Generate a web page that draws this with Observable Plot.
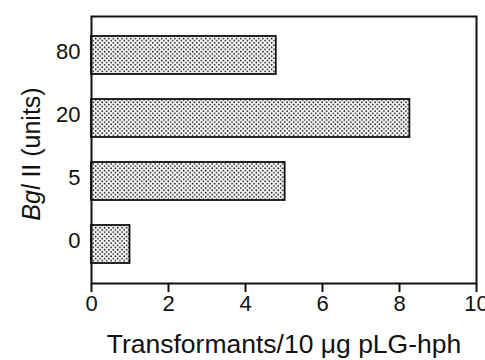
<!DOCTYPE html>
<html><head><meta charset="utf-8">
<script src="https://cdn.jsdelivr.net/npm/d3@7"></script>
<script src="https://cdn.jsdelivr.net/npm/@observablehq/plot@0.6"></script>
<style>body{margin:0;background:#fff}</style>
</head><body><div id="chart"></div>
<script>
const units = ["80", "20", "5", "0"];
const transformants = [4.8, 8.27, 5.03, 1.0];
const xTicks = [0, 2, 4, 6, 8, 10];

const data = units.map((u, i) => ({u, v: transformants[i]}));

const chart = Plot.plot({
  width: 485, height: 360,
  marginLeft: 91, marginRight: 9, marginTop: 16, marginBottom: 77,
  style: {fontFamily: "Liberation Sans, Arial, sans-serif", fontSize: "22px", color: "#111", background: "#fff", overflow: "hidden"},
  x: {domain: [0, 10], ticks: xTicks, label: null},
  y: {domain: units, paddingInner: 0.39, paddingOuter: 0.29, label: null},
  marks: [
    Plot.barX(data, {x: "v", y: "u", fill: "url(#dots)", stroke: "#111", strokeWidth: 1.8}),
    Plot.frame({stroke: "#111", strokeWidth: 2}),
    Plot.axisX({ticks: xTicks, tickSize: 9, tickPadding: 3, strokeWidth: 2, label: null, fontSize: 22}),
    Plot.axisY({tickSize: 0, tickPadding: 11, label: null, fontSize: 22, dy: -4})
  ]
});

const svg = d3.select(chart);
svg.selectAll("text").style("font-size", "22px");
const defs = svg.insert("defs", ":first-child");
const pat = defs.append("pattern").attr("id", "dots").attr("patternUnits", "userSpaceOnUse")
  .attr("width", 4.4).attr("height", 4.4);
pat.append("rect").attr("width", 4.4).attr("height", 4.4).attr("fill", "#fff");
pat.append("circle").attr("cx", 1.1).attr("cy", 1.1).attr("r", 0.85).attr("fill", "#000");
pat.append("circle").attr("cx", 3.3).attr("cy", 3.3).attr("r", 0.85).attr("fill", "#000");

svg.append("text")
  .attr("x", 284).attr("y", 353)
  .attr("text-anchor", "middle")
  .style("font-size", "26.5px")
  .attr("fill", "#111")
  .text("Transformants/10 \u03bcg pLG-hph");

const ylab = svg.append("text")
  .attr("transform", "translate(40,154) rotate(-90)")
  .attr("text-anchor", "middle")
  .style("font-size", "25px")
  .attr("fill", "#111");
ylab.append("tspan").attr("font-style", "italic").text("Bgl");
ylab.append("tspan").text(" II (units)");

document.getElementById("chart").append(chart);
</script></body></html>
